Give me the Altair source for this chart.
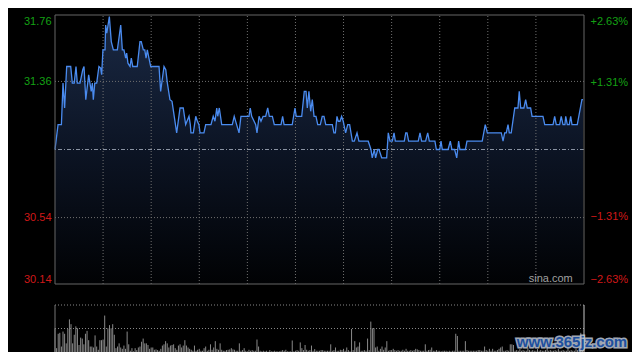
import altair as alt
import pandas as pd

# ---------------- data ----------------
prev_close = 30.95
price_ticks = [30.14, 30.54, 31.36, 31.76]
pct_ticks = [-2.63, -1.31, 1.31, 2.63]
grid_minutes = [30, 60, 90, 120, 150, 180, 210, 240, 270, 300]
hgrid_prices = [30.54, 31.36]

minutes = [
    0, 1.9, 4, 5, 6, 7.3, 9.8, 10.8, 12, 13.1, 13.9, 15.6, 17.3, 18.1, 19.2, 21, 22.6, 23.3, 23.9, 24.8,
    26, 27.4, 28.5, 29.1, 29.9, 31.2, 31.6, 32.3, 33.9, 35.1, 36.4, 38.9, 41, 42, 43, 44.1, 44.7, 45.5, 46.8, 47.6,
    48.5, 51.3, 53, 53.8, 55.1, 56, 56.8, 57.6, 58.6, 59.7, 64.9, 65.9, 68, 69.1, 70.1, 71.7, 73, 75.9, 78, 80,
    81.5, 83.6, 84.4, 84.8, 86.3, 87.8, 88.8, 89.8, 90.5, 92.9, 94, 97.3, 98.7, 99.8, 100.9, 101.5, 102.5, 104, 110.6, 111.8,
    113.3, 114.8, 116, 121, 121.8, 122.7, 125.2, 126, 127.3, 128.5, 129.8, 131.4, 132.7, 133.7, 135.6, 136.8, 141, 142, 142.9, 148,
    149.7, 150.5, 153.9, 155.5, 156.6, 157.4, 158.4, 159.5, 160.5, 161.6, 162.8, 163.9, 165.5, 166.7, 167.8, 168.9, 173, 174, 174.9, 175.9,
    176.7, 177.8, 178.8, 179.8, 181.3, 182.6, 183.8, 185.5, 186.7, 188.4, 189.6, 195.4, 197.1, 197.9, 199.2, 200, 201.3, 202.1, 203.8, 206.9,
    207.9, 209, 210.4, 211.5, 212.3, 217.9, 218.8, 219.6, 220.6, 226.6, 227.7, 228.7, 231.2, 232.5, 233.5, 237, 237.9, 240, 240.8, 241.6,
    245.2, 246.6, 247.6, 249.3, 250.6, 251.8, 252.6, 256, 257, 266.5, 268.4, 269.7, 278.4, 279.5, 280.5, 281.5, 282.6, 283.4, 284.6, 286.8,
    288.8, 289.6, 290.5, 292.5, 293.6, 294.6, 296.7, 297.6, 304.4, 305.5, 310.7, 311.7, 312.7, 314.8, 315.8, 316.9, 318.1, 318.6, 319.6, 320.8,
    321.7, 322.5, 325.8, 328.7, 329.4,
]
prices = [
    30.95, 31.10, 31.10, 31.35, 31.20, 31.45, 31.45, 31.35, 31.35, 31.45, 31.35, 31.35, 31.43, 31.45, 31.25, 31.40, 31.30, 31.35, 31.25, 31.35,
    31.35, 31.45, 31.44, 31.40, 31.55, 31.55, 31.70, 31.65, 31.75, 31.60, 31.55, 31.55, 31.70, 31.55, 31.55, 31.50, 31.53, 31.47, 31.45, 31.50,
    31.45, 31.45, 31.60, 31.60, 31.55, 31.55, 31.50, 31.55, 31.50, 31.45, 31.45, 31.30, 31.45, 31.43, 31.35, 31.25, 31.24, 31.05, 31.20, 31.20,
    31.10, 31.15, 31.10, 31.05, 31.05, 31.15, 31.12, 31.10, 31.05, 31.05, 31.10, 31.10, 31.15, 31.12, 31.20, 31.15, 31.20, 31.10, 31.10, 31.15,
    31.10, 31.05, 31.15, 31.15, 31.20, 31.15, 31.10, 31.05, 31.15, 31.12, 31.15, 31.15, 31.20, 31.15, 31.15, 31.10, 31.10, 31.15, 31.10, 31.10,
    31.20, 31.15, 31.15, 31.30, 31.30, 31.20, 31.30, 31.18, 31.25, 31.15, 31.15, 31.10, 31.10, 31.15, 31.15, 31.10, 31.10, 31.05, 31.05, 31.15,
    31.12, 31.12, 31.15, 31.12, 31.05, 31.10, 31.10, 31.00, 31.00, 31.05, 31.00, 31.00, 30.95, 30.90, 30.95, 30.90, 30.95, 30.95, 30.90, 30.90,
    31.05, 31.00, 31.00, 31.05, 31.00, 31.00, 31.05, 31.05, 31.00, 31.00, 31.05, 31.00, 31.00, 31.05, 31.00, 31.00, 30.95, 30.95, 31.00, 30.95,
    30.95, 31.00, 30.95, 30.95, 30.90, 31.00, 30.95, 30.95, 31.00, 31.00, 31.10, 31.05, 31.05, 31.00, 31.05, 31.05, 31.10, 31.05, 31.05, 31.20,
    31.20, 31.30, 31.20, 31.20, 31.25, 31.20, 31.20, 31.15, 31.15, 31.10, 31.10, 31.15, 31.10, 31.10, 31.15, 31.10, 31.10, 31.15, 31.10, 31.10,
    31.15, 31.10, 31.10, 31.25, 31.25,
]

volumes = [
    24.7, 4, 19, 20, 5.7, 21.3, 19, 9, 24, 34,
    29, 9, 18, 26.7, 24.7, 7.3, 15, 14, 8, 19,
    22, 12.3, 5.7, 5.7, 4.7, 17.3, 5.7, 2.3, 12.3, 12.3,
    13, 38, 5.7, 24.7, 28, 24.7, 29, 18, 4, 5.7,
    9, 4.7, 3.3, 6.7, 3.3, 21.3, 8, 1.3, 4, 0.7,
    4, 2, 4.7, 5.7, 10.7, 14, 9, 9, 7.3, 3.3,
    4.7, 4.7, 2.3, 2.7, 2, 1.3, 3.3, 6.7, 8, 11.3,
    9, 4.7, 6.7, 7.3, 8, 4, 2.3, 6.7, 8, 4.7,
    6.7, 12.3, 6.7, 4.7, 3.3, 2.3, 1.3, 6.7, 1.3, 2.3,
    3.3, 1.3, 1.3, 4, 5.7, 1.3, 2.3, 8, 2.3, 4.7,
    11.3, 3.3, 2.3, 9, 2.3, 1.3, 1.3, 2, 2.3, 2.7,
    4, 2.7, 2.3, 1.3, 1.3, 9, 1.3, 2, 4, 1.3,
    0.7, 2.3, 1.3, 2, 1.3, 1.3, 13, 5.7, 1.3, 0.7,
    1.3, 0.7, 1.3, 0.3, 2, 0.7, 0.7, 1.3, 0.7, 0.7,
    0.7, 1.3, 2, 1.3, 2.3, 0.7, 0.7, 0.7, 12, 0.7,
    1.3, 2, 1.3, 10, 4, 2, 7.3, 2.3, 1.3, 2,
    6.7, 1.3, 3, 1.3, 1.3,
    1.3, 2, 2, 1.3, 1.3, 1.3, 1.3, 8, 1.3, 2,
    4.7, 1.3, 1.3, 2.3, 2, 3.3, 1.3, 4.7, 2, 0.7,
    24, 2, 11.3, 4.7, 5.7, 10, 1.3, 1.3, 2, 1.3,
    14, 2, 31.7, 24.7, 24.7, 4.7, 5.7, 1.3, 3.3, 5.7,
    2.3, 4.7, 11.3, 1.3, 2, 2, 3.3, 2, 1.3, 2,
    1.3, 1.3, 2.3, 1.3, 3.3, 1.3, 1.3, 2, 1.3, 2,
    3.3, 2.7, 2, 1.3, 1.3, 1.3, 8, 1.3, 2, 2.3,
    4.7, 1.3, 1.3, 2, 1.3, 1.3, 0.7, 1.3, 1.3, 1.3,
    0.7, 1.3, 0.7, 1.3, 1.3, 19, 16.7, 1.3, 1.3, 1.3,
    1.3, 11.3, 2, 1.3, 1.3, 1.3, 1.3, 1.3, 1.3, 2,
    2, 1.3, 1.3, 5.7, 2, 1.3, 3.3, 1.3, 3.3, 1.3,
    1.3, 2, 3.3, 4.7, 5.7, 1.3, 1.3, 2, 1.3, 8,
    8, 7.3,
    1.3, 2, 1.3, 3, 1.3, 2, 1.3, 1.3, 4, 2,
    1.3, 2, 1.3, 1.3, 3, 1.3, 2, 1.3, 1.3, 2,
    5, 1.3, 2, 1.3, 1.3, 2, 1.3, 3, 1.3, 1.3,
    2, 1.3, 1.3, 4, 1.3, 2, 1.3, 1.3, 3, 2,
    1.3, 20, 1.3,
]

# ---------------- tables ----------------
price_df = pd.DataFrame({"m": minutes, "p": prices})
vol_df = pd.DataFrame({"m": list(range(len(volumes))), "v": volumes})
vgrid_df = pd.DataFrame({"m": grid_minutes, "lo": price_ticks[0], "hi": price_ticks[-1]})
hgrid_df = pd.DataFrame({"p": hgrid_prices})
center_df = pd.DataFrame({"p": [prev_close]})
frame_df = pd.DataFrame({"a": [0], "b": [330], "lo": [price_ticks[0]], "hi": [price_ticks[-1]]})
pct_df = pd.DataFrame({"pct": pct_ticks})
vline_df = pd.DataFrame({"v": [49, 24.5]})
vside_df = pd.DataFrame({"m": [0, 330], "lo": [0, 0], "hi": [49, 49], "c": ["l", "r"]})
sina_df = pd.DataFrame({"m": [323], "p": [30.155], "t": ["sina.com"]})
wm_df = pd.DataFrame({"m": [322.5], "v": [5.0], "t": ["www.365jz.com"]})

FONT = "Liberation Sans"
xs = alt.Scale(domain=[0, 330], nice=False, zero=False)
ps = alt.Scale(domain=[30.14, 31.76], range=[269, 0], nice=False, zero=False)
pcs = alt.Scale(domain=[-2.63, 2.63], range=[269, 0], nice=False, zero=False)
vs = alt.Scale(domain=[0, 49], range=[337, 290], nice=False, zero=False)

price_axis = alt.Axis(
    orient="left", values=price_ticks, format=".2f", labelFlush=True, grid=False,
    domain=False, ticks=False, labelPadding=4, labelFontSize=11, labelFont=FONT,
    labelColor={"condition": {"test": "datum.value > 30.95", "value": "#14a014"}, "value": "#d01818"},
    title=None,
)
pct_axis = alt.Axis(
    orient="right", values=pct_ticks, labelFlush=True, grid=False, domain=False, ticks=False,
    labelPadding=6, labelFontSize=11, labelFont=FONT,
    labelExpr="(datum.value > 0 ? '+' : '') + format(datum.value, '.2f') + '%'",
    labelColor={"condition": {"test": "datum.value > 0", "value": "#14a014"}, "value": "#d01818"},
    title=None,
)
X = lambda f: alt.X(f, type="quantitative", scale=xs, axis=None)
YP = lambda f: alt.Y(f, type="quantitative", scale=ps, axis=price_axis, title=None)

gradient = alt.Gradient(
    gradient="linear", x1=0, x2=0, y1=0, y2=1,
    stops=[
        alt.GradientStop(color="#1a2944", offset=0),
        alt.GradientStop(color="#0c1424", offset=0.5),
        alt.GradientStop(color="#010204", offset=1),
    ],
)

area = alt.Chart(price_df).mark_area(color=gradient, interpolate="linear").encode(
    x=X("m"), y=YP("p"), y2=alt.Y2(datum=30.14)
)
vgrid = alt.Chart(vgrid_df).mark_rule(color="#707070", strokeDash=[1, 2], strokeWidth=1).encode(
    x=X("m"), y=YP("lo"), y2="hi:Q"
)
hgrid = alt.Chart(hgrid_df).mark_rule(color="#707070", strokeDash=[1, 2], strokeWidth=1).encode(
    y=YP("p")
)
center = alt.Chart(center_df).mark_rule(color="#8a93a3", strokeDash=[4, 2, 1, 2], strokeWidth=1).encode(
    y=YP("p")
)
line = alt.Chart(price_df).mark_line(color="#4a8bef", strokeWidth=1.3).encode(
    x=X("m"), y=YP("p")
)
frame = alt.Chart(frame_df).mark_rect(filled=False, stroke="#666666", strokeWidth=1).encode(
    x=X("a"), x2="b", y=YP("lo"), y2="hi:Q"
)
sina = alt.Chart(sina_df).mark_text(
    align="right", baseline="alphabetic", font=FONT, fontSize=11, color="#a0a0a0"
).encode(x=X("m"), y=YP("p"), text="t:N")

price_group = alt.layer(area, vgrid, hgrid, center, line, frame, sina)

pct_layer = alt.Chart(pct_df).mark_point(opacity=0).encode(
    y=alt.Y("pct:Q", scale=pcs, axis=pct_axis)
)

bars = alt.Chart(vol_df).mark_rule(color="#8a8a8a", strokeWidth=1).encode(
    x=X("m"), y=alt.Y("v:Q", scale=vs, axis=None), y2=alt.Y2(datum=0)
)
vlines = alt.Chart(vline_df).mark_rule(color="#888888", strokeDash=[1, 2], strokeWidth=1).encode(
    y=alt.Y("v:Q", scale=vs, axis=None)
)
vsides = alt.Chart(vside_df).mark_rule(strokeWidth=1).encode(
    x=X("m"), y=alt.Y("lo:Q", scale=vs, axis=None), y2="hi:Q",
    color=alt.Color("c:N", scale=alt.Scale(domain=["l", "r"], range=["#777777", "#c8c8c8"]), legend=None),
)
wm_back = alt.Chart(wm_df).mark_text(
    align="center", baseline="alphabetic", font=FONT, fontSize=15, fontWeight="bold",
    stroke="#c9d2e0", strokeWidth=3, color="#c9d2e0", opacity=0.8,
).encode(x=X("m"), y=alt.Y("v:Q", scale=vs, axis=None), text="t:N")
wm_front = alt.Chart(wm_df).mark_text(
    align="center", baseline="alphabetic", font=FONT, fontSize=15, fontWeight="bold",
    color="#1d4f9e",
).encode(x=X("m"), y=alt.Y("v:Q", scale=vs, axis=None), text="t:N")

vol_group = alt.layer(bars, vlines, vsides, wm_back, wm_front)

chart = (
    alt.layer(price_group, pct_layer, vol_group)
    .resolve_scale(y="independent", color="independent")
    .properties(
        width=529, height=337, autosize=alt.AutoSizeParams(type="none"),
        padding={"left": 47, "top": 7, "right": 48, "bottom": 0},
        background="#000000",
    )
    .configure_view(stroke=None)
)

chart.save("out.html", embed_options={"renderer": "svg", "actions": False})
